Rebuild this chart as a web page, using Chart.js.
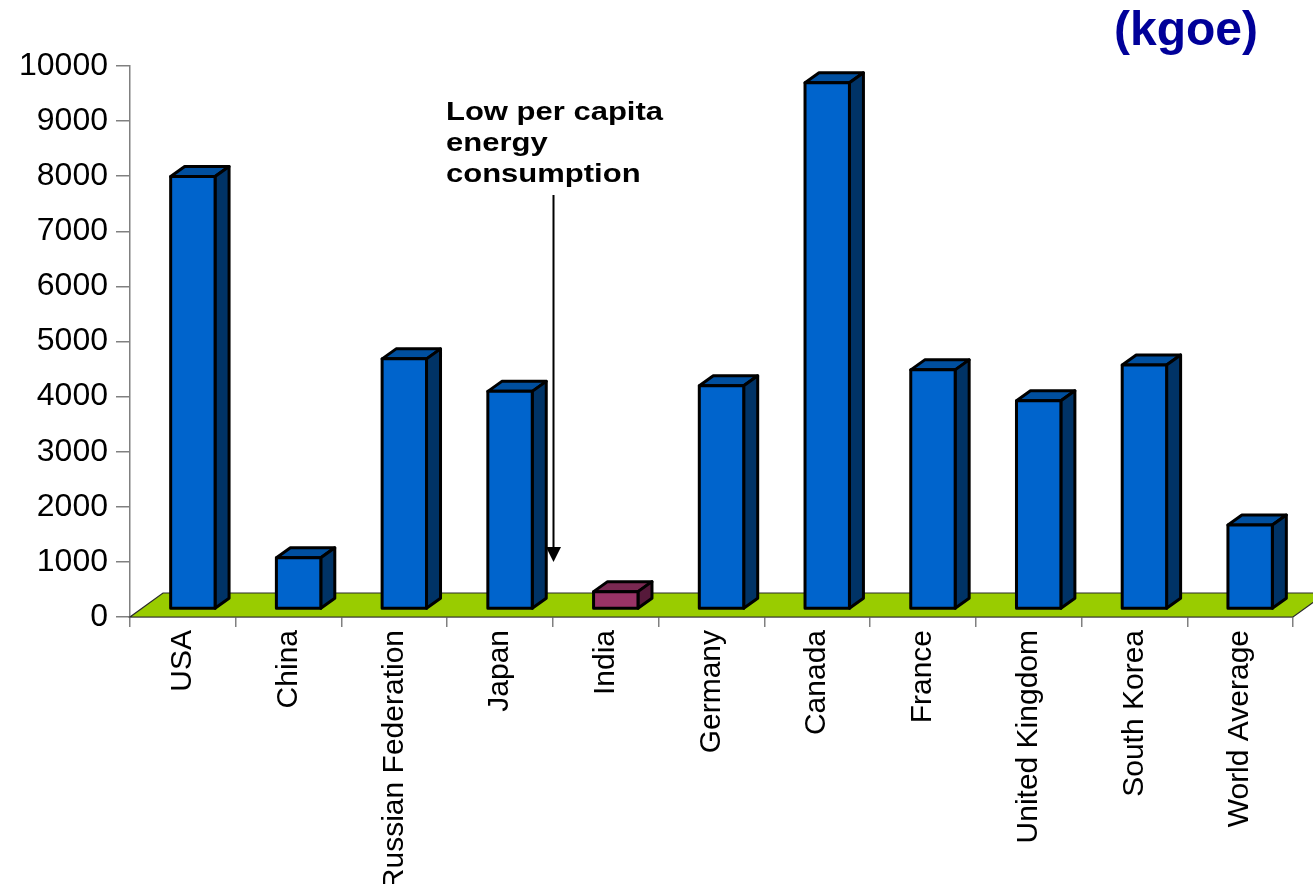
<!DOCTYPE html>
<html>
<head>
<meta charset="utf-8">
<title>Per capita energy consumption (kgoe)</title>
<script src="https://cdn.jsdelivr.net/npm/chart.js@4.4.0/dist/chart.umd.min.js"></script>
<style>
  html, body { margin: 0; padding: 0; background: #fff; }
  #wrap { width: 1313px; height: 884px; position: relative; }
</style>
</head>
<body>
<div id="wrap"><canvas id="energyChart"></canvas></div>
<script>
// Per capita energy consumption, kg of oil equivalent — 3D-look column chart

const countries = ['USA', 'China', 'Russian Federation', 'Japan', 'India', 'Germany',
  'Canada', 'France', 'United Kingdom', 'South Korea', 'World Average'];
const kgoe = [7850, 930, 4540, 3950, 315, 4050, 9550, 4340, 3780, 4430, 1525];
const highlighted = 'India';

const unitLabel = '(kgoe)';
const noteLines = ['Low per capita', 'energy', 'consumption'];
const arrowTipValue = 1000;

const FONT = '"Liberation Sans", Arial, Helvetica, sans-serif';

// face colours: front / top / side
const BLUE = { front: '#0064cc', top: '#004f9f', side: '#003366' };
const PURPLE = { front: '#993366', top: '#7a2952', side: '#56193a' };
const colorFor = c => (c === highlighted ? PURPLE : BLUE);

// depth of the bars and of the floor, in pixels
const BAR_DX = 14, BAR_DY = -10;
const SHIFT_X = 10, SHIFT_Y = -8;     // bars stand part way back on the floor
const FLOOR_DX = 33, FLOOR_DY = -24;

function face(ctx, pts, fill) {
  ctx.beginPath();
  ctx.moveTo(pts[0][0], pts[0][1]);
  for (let i = 1; i < pts.length; i++) ctx.lineTo(pts[i][0], pts[i][1]);
  ctx.closePath();
  ctx.fillStyle = fill;
  ctx.fill();
  ctx.stroke();
}

const threeD = {
  id: 'threeD',
  beforeDatasetsDraw(chart) {
    const { ctx, chartArea: a } = chart;
    const y0 = chart.scales.y.getPixelForValue(0);
    ctx.save();
    ctx.strokeStyle = '#2b2b2b';
    ctx.lineWidth = 1.2;
    face(ctx, [[a.left, y0], [a.right, y0], [a.right + FLOOR_DX, y0 + FLOOR_DY],
      [a.left + FLOOR_DX, y0 + FLOOR_DY]], '#99cc00');
    ctx.restore();
    // shift the columns back onto the floor
    ctx.save();
    ctx.translate(SHIFT_X, SHIFT_Y);
  },
  afterDatasetsDraw(chart) {
    const ctx = chart.ctx;
    ctx.strokeStyle = '#000';
    ctx.lineWidth = 3;
    ctx.lineJoin = 'round';
    chart.getDatasetMeta(0).data.forEach((bar, i) => {
      const col = colorFor(countries[i]);
      const l = bar.x - bar.width / 2, r = bar.x + bar.width / 2;
      const t = bar.y, b = bar.base;
      face(ctx, [[l, t], [l + BAR_DX, t + BAR_DY], [r + BAR_DX, t + BAR_DY], [r, t]], col.top);
      face(ctx, [[r, t], [r + BAR_DX, t + BAR_DY], [r + BAR_DX, b + BAR_DY], [r, b]], col.side);
      face(ctx, [[l, t], [r, t], [r, b], [l, b]], col.front);
    });
    ctx.restore();
  },
  afterDraw(chart) {
    const { ctx, scales: { x, y } } = chart;
    ctx.save();

    // unit label, top right
    ctx.fillStyle = '#000099';
    ctx.font = 'bold 48px ' + FONT;
    ctx.textAlign = 'right';
    ctx.textBaseline = 'alphabetic';
    ctx.fillText(unitLabel, 1258, 45);

    // note about India
    ctx.fillStyle = '#000';
    ctx.font = 'bold 25px ' + FONT;
    ctx.textAlign = 'left';
    noteLines.forEach((line, i) => {
      ctx.save();
      ctx.translate(446, 120 + i * 31);
      ctx.scale(1.24, 1);
      ctx.fillText(line, 0, 0);
      ctx.restore();
    });

    // arrow down to the India column
    const ax = Math.round((x.getPixelForValue(3) + x.getPixelForValue(4)) / 2) + 0.5;
    const tip = y.getPixelForValue(arrowTipValue);
    ctx.strokeStyle = '#000';
    ctx.lineWidth = 2;
    ctx.beginPath();
    ctx.moveTo(ax, 195);
    ctx.lineTo(ax, tip - 12);
    ctx.stroke();
    ctx.beginPath();
    ctx.moveTo(ax - 7.5, tip - 15);
    ctx.lineTo(ax + 7.5, tip - 15);
    ctx.lineTo(ax, tip);
    ctx.closePath();
    ctx.fill();

    ctx.restore();
  }
};

const ctx = document.getElementById('energyChart').getContext('2d');
new Chart(ctx, {
  type: 'bar',
  data: {
    labels: countries,
    datasets: [{
      data: kgoe,
      backgroundColor: countries.map(c => colorFor(c).front),
      borderWidth: 0,
      categoryPercentage: 1,
      barPercentage: 0.42
    }]
  },
  options: {
    responsive: true,
    maintainAspectRatio: false,
    animation: false,
    clip: false,
    layout: { padding: { top: 66, right: 20, left: 0, bottom: 0 } },
    plugins: {
      legend: { display: false },
      tooltip: { enabled: false },
      title: { display: false }
    },
    scales: {
      x: {
        offset: true,
        grid: { offset: true, drawOnChartArea: false, tickLength: 10, color: '#808080', lineWidth: 1.5 },
        border: { color: '#808080', width: 1.5 },
        ticks: {
          autoSkip: false, minRotation: 90, maxRotation: 90, padding: 3,
          color: '#000', font: { family: FONT, size: 30 }
        },
        afterFit: s => { s.height = 267; }
      },
      y: {
        min: 0,
        max: 10000,
        grid: { drawOnChartArea: false, tickLength: 14, color: '#808080', lineWidth: 1.5 },
        border: { color: '#808080', width: 1.5 },
        ticks: {
          stepSize: 1000, padding: 8,
          color: '#000', font: { family: FONT, size: 32 },
          callback: v => String(v)
        },
        afterFit: s => { s.width = 130; }
      }
    }
  },
  plugins: [threeD]
});
</script>
</body>
</html>
